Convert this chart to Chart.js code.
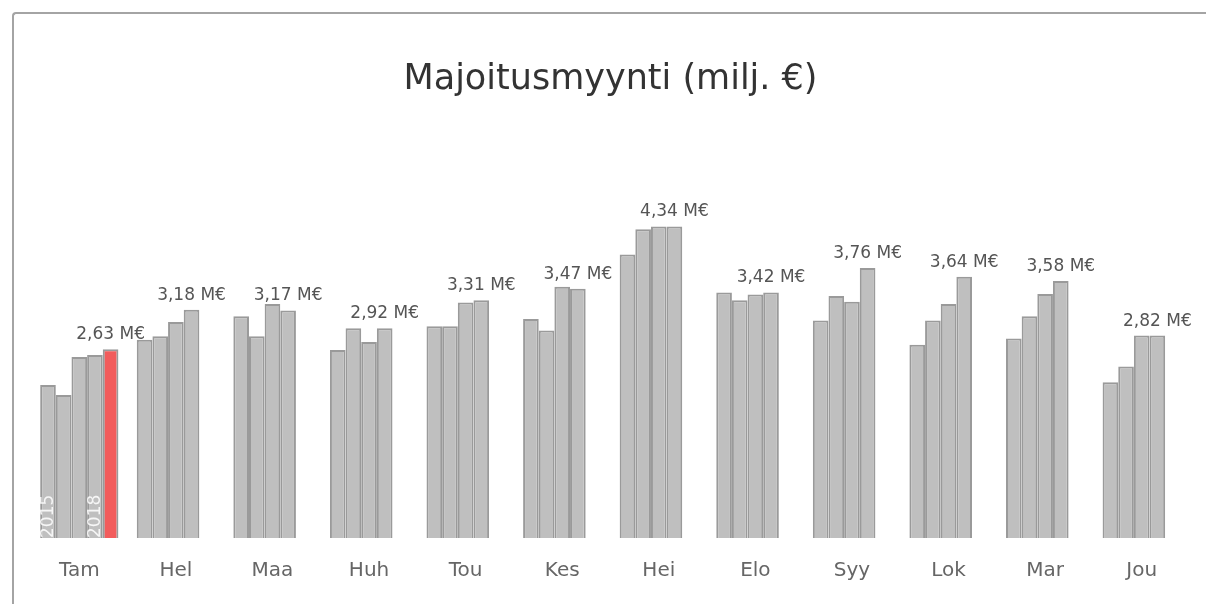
<!DOCTYPE html>
<html>
<head>
<meta charset="utf-8">
<script src="https://cdn.jsdelivr.net/npm/chart.js@4/dist/chart.umd.min.js"></script>
<style>
  html, body { margin: 0; padding: 0; background: #fff; overflow: hidden; }
  #box {
    position: absolute; left: 12px; top: 12px;
    width: 1192px; height: 590px;
    border-left: 2px solid #a4a4a4; border-top: 2px solid #a4a4a4;
    border-top-left-radius: 4px;
  }
  canvas { display: block; }
</style>
</head>
<body>
<div id="box"><canvas id="salesChart" width="1192" height="590"></canvas></div>
<script>
// kuukaudet
const months = ['Tam', 'Hel', 'Maa', 'Huh', 'Tou', 'Kes', 'Hei', 'Elo', 'Syy', 'Lok', 'Mar', 'Jou'];
const years = ['2015', '2016', '2017', '2018', '2019'];

// majoitusmyynti milj. € vuosittain
const v2015 = [2.13, 2.76, 3.09, 2.62, 2.95, 3.05, 3.95, 3.42, 3.03, 2.69, 2.78, 2.17];
const v2016 = [1.99, 2.81, 2.81, 2.92, 2.95, 2.89, 4.30, 3.31, 3.37, 3.03, 3.09, 2.39];
const v2017 = [2.52, 3.01, 3.26, 2.73, 3.28, 3.50, 4.34, 3.39, 3.29, 3.26, 3.40, 2.82];
const v2018 = [2.55, 3.18, 3.17, 2.92, 3.31, 3.47, 4.34, 3.42, 3.76, 3.64, 3.58, 2.82];
const v2019 = [2.63, null, null, null, null, null, null, null, null, null, null, null];

// vuosiluvut näytetään vain tammikuun palkeissa
const taggedYears = [0, 3];

const grey = '#bfbfbf';
const red = '#f25c5c';

const fmt = (v) => v.toFixed(2).replace('.', ',') + ' M€';

// arvo viimeisimmän palkin päälle + vuosiluku palkin sisään
const labelPlugin = {
  id: 'labels',
  afterDatasetsDraw(chart) {
    const ctx = chart.ctx;
    const sets = chart.data.datasets;
    ctx.save();
    months.forEach((m, i) => {
      let last = -1;
      sets.forEach((ds, d) => { if (ds.data[i] != null) last = d; });
      if (last < 0) return;
      const bar = chart.getDatasetMeta(last).data[i];
      ctx.font = '17px "DejaVu Sans"';
      ctx.fillStyle = '#555';
      ctx.textAlign = 'center';
      ctx.textBaseline = 'alphabetic';
      ctx.fillText(fmt(sets[last].data[i]), bar.x, bar.y - 10);
    });
    taggedYears.forEach((d) => {
      const bar = chart.getDatasetMeta(d).data[0];
      ctx.save();
      ctx.translate(bar.x, bar.base);
      ctx.rotate(-Math.PI / 2);
      ctx.font = '17px "DejaVu Sans"';
      ctx.fillStyle = 'rgba(255,255,255,0.85)';
      ctx.textAlign = 'left';
      ctx.textBaseline = 'middle';
      ctx.fillText(years[d], 0, 1);
      ctx.restore();
    });
    ctx.restore();
  },
};

const ctx = document.getElementById('salesChart').getContext('2d');
new Chart(ctx, {
  type: 'bar',
  data: {
    labels: months,
    datasets: [
      { label: years[0], data: v2015, backgroundColor: grey },
      { label: years[1], data: v2016, backgroundColor: grey },
      { label: years[2], data: v2017, backgroundColor: grey },
      { label: years[3], data: v2018, backgroundColor: grey },
      { label: years[4], data: v2019, backgroundColor: red },
    ],
  },
  options: {
    responsive: false,
    animation: false,
    datasets: {
      bar: { borderColor: '#9a9a9a', borderWidth: 2, barPercentage: 1, categoryPercentage: 0.81 },
    },
    layout: { padding: { left: 17, right: 16, top: 0, bottom: 0 } },
    plugins: {
      legend: { display: false },
      tooltip: { enabled: false },
      title: {
        display: true,
        text: 'Majoitusmyynti (milj. €)',
        color: '#333',
        font: { family: 'DejaVu Sans', size: 35, weight: 'normal' },
        padding: { top: 45, bottom: 78 },
      },
    },
    scales: {
      x: {
        grid: { display: false, drawTicks: false },
        border: { display: false },
        ticks: { color: '#666', padding: 21, font: { family: 'DejaVu Sans', size: 20 } },
      },
      y: { display: false, min: 0, max: 5 },
    },
  },
  plugins: [labelPlugin],
});
</script>
</body>
</html>
